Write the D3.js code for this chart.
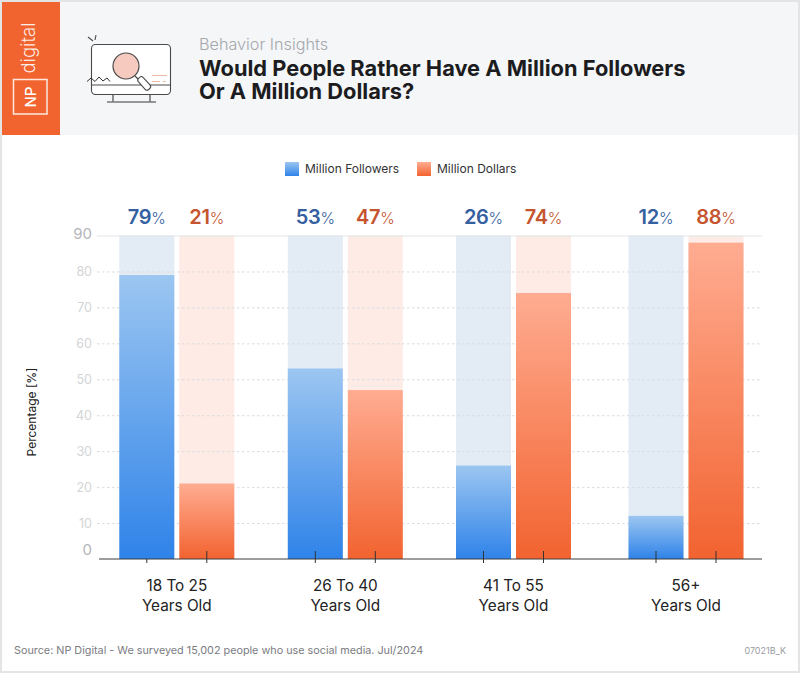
<!DOCTYPE html>
<html>
<head>
<meta charset="utf-8">
<script src="https://d3js.org/d3.v7.min.js"></script>
<style>
  html, body { margin: 0; padding: 0; background: #fff; }
  svg { display: block; font-family: Inter, "Noto Sans", sans-serif; }
</style>
</head>
<body>
<div id="chart"></div>
<script>
// Values
const categories = ["18 To 25", "26 To 40", "41 To 55", "56+"];
const categorySubLabel = "Years Old";
const seriesNames = ["Million Followers", "Million Dollars"];
const followers = [79, 53, 26, 12];
const dollars = [21, 47, 74, 88];
const yTicks = [0, 10, 20, 30, 40, 50, 60, 70, 80, 90];
const groupLefts = [119.3, 287.8, 456, 628.5];

const width = 800, height = 673;
const svg = d3.select("#chart").append("svg").attr("width", width).attr("height", height);
const defs = svg.append("defs");

function addGradient(id, top, bottom) {
    const g = defs.append("linearGradient").attr("id", id)
        .attr("x1", 0).attr("y1", 0).attr("x2", 0).attr("y2", 1);
    g.append("stop").attr("offset", "0%").attr("stop-color", top);
    g.append("stop").attr("offset", "100%").attr("stop-color", bottom);
}
addGradient("grad-0", "#9cc6f1", "#2f83e9");
addGradient("grad-1", "#ffac91", "#f26330");

const trackColors = ["#e3ebf5", "#feebe6"];
const labelColors = ["#35609f", "#c5552f"];

// frame
svg.append("rect").attr("x", 1).attr("y", 1).attr("width", width - 2).attr("height", height - 2)
    .attr("fill", "#fff").attr("stroke", "#e4e4e4").attr("stroke-width", 2);

// header
svg.append("rect").attr("x", 2).attr("y", 2).attr("width", 796).attr("height", 133).attr("fill", "#f4f6f8");
svg.append("rect").attr("x", 2).attr("y", 2).attr("width", 58).attr("height", 133).attr("fill", "#f2642f");
svg.append("rect").attr("x", 13.5).attr("y", 79.5).attr("width", 33.5).attr("height", 34.5)
    .attr("fill", "none").attr("stroke", "#fff").attr("stroke-opacity", 0.85).attr("stroke-width", 1.5);
svg.append("text").attr("transform", "translate(36,97) rotate(-90)").attr("text-anchor", "middle")
    .attr("fill", "#fff").attr("font-size", 15).attr("font-weight", 500).text("NP");
svg.append("text").attr("transform", "translate(35,48) rotate(-90)").attr("text-anchor", "middle")
    .attr("fill", "#fff").attr("fill-opacity", 0.9).attr("font-size", 18.5).attr("font-weight", 300).text("digital");

// monitor icon
const icon = svg.append("g").attr("fill", "none").attr("stroke", "#4a4a4a").attr("stroke-width", 1.1);
icon.append("rect").attr("x", 91.5).attr("y", 44.5).attr("width", 79).attr("height", 50).attr("rx", 4).attr("fill", "#fff");
icon.append("line").attr("x1", 91.5).attr("x2", 170.5).attr("y1", 85).attr("y2", 85);
icon.append("path").attr("d", "M113 94.5V102M150 94.5V102").attr("stroke-width", 1.2);
icon.append("line").attr("x1", 107).attr("x2", 156).attr("y1", 102).attr("y2", 102).attr("stroke", "#777").attr("stroke-width", 1.4);
icon.append("path").attr("d", "M88 37L93 41M96 35L95 40");
icon.append("path").attr("d", "M152 75.5H167M152 81.5H160M163 81.5H166").attr("stroke", "#eab9a5");
icon.append("path").attr("d", "M87 81.5L91 78L95 81.5L99 77L103 81L107 78L110 81.5")
    .attr("stroke", "#333").attr("stroke-width", 1);
icon.append("path").attr("d", "M135 76L139 80").attr("stroke-width", 1.2);
icon.append("rect").attr("x", -3).attr("y", 0).attr("width", 6.5).attr("height", 15).attr("rx", 2.5)
    .attr("transform", "translate(139,78) rotate(-42)").attr("fill", "#fff");
icon.append("circle").attr("cx", 126).attr("cy", 66).attr("r", 13).attr("fill", "#f7cabf").attr("stroke-width", 1.2);

// titles
svg.append("text").attr("x", 199).attr("y", 50).attr("fill", "#a4a8ac").attr("font-size", 16.2)
    .attr("font-weight", 300).text("Behavior Insights");
svg.append("text").attr("x", 199).attr("y", 76).attr("fill", "#1c1c1e").attr("font-size", 21.8)
    .attr("font-weight", 700).text("Would People Rather Have A Million Followers");
svg.append("text").attr("x", 199).attr("y", 99).attr("fill", "#1c1c1e").attr("font-size", 21.8)
    .attr("font-weight", 700).text("Or A Million Dollars?");

// legend
const legendItems = svg.append("g").selectAll("g").data(seriesNames).join("g")
    .attr("transform", (d, i) => `translate(${i === 0 ? 285 : 417},162)`);
legendItems.append("rect").attr("width", 14).attr("height", 14).attr("fill", (d, i) => `url(#grad-${i})`);
legendItems.append("text").attr("x", 20).attr("y", 10.5).attr("fill", "#333").attr("font-size", 12).text(d => d);

// scales
const y = d3.scaleLinear().domain([0, 90]).range([559, 235.5]);
const groupX = d3.scaleOrdinal().domain(categories).range(groupLefts);
const barX = d3.scaleBand().domain(seriesNames).range([0, 115]).paddingInner(5 / 60);
const rows = categories.map((c, i) => ({ category: c, values: [followers[i], dollars[i]] }));
const cells = rows.flatMap(r => r.values.map((v, s) => ({
    category: r.category, series: seriesNames[s], s, value: v
})));
const cellX = d => groupX(d.category) + barX(d.series);

// background tracks
svg.append("g").selectAll("rect").data(cells).join("rect")
    .attr("x", cellX).attr("width", barX.bandwidth())
    .attr("y", y(90)).attr("height", y(0) - y(90))
    .attr("fill", d => trackColors[d.s]);

// y axis + grid
const yAxis = svg.append("g").attr("transform", "translate(97,0)")
    .call(d3.axisLeft(y).tickValues(yTicks).tickSize(-665).tickPadding(5));
yAxis.select(".domain").remove();
yAxis.selectAll(".tick line")
    .attr("stroke", d => d === 90 ? "#e1e4e8" : "#d9dbde")
    .attr("stroke-width", 1)
    .attr("stroke-dasharray", d => d === 90 ? null : "2.5 2.5")
    .attr("display", d => d === 0 ? "none" : null);
yAxis.selectAll(".tick text")
    .attr("font-family", "Inter, sans-serif")
    .attr("font-size", d => d === 0 || d === 90 ? 15 : 12.5)
    .attr("fill", d => d === 0 || d === 90 ? "#b4b6b9" : "#d2d4d6")
    .attr("dy", d => d === 0 ? "-0.3em" : d === 90 ? "0.2em" : "0.32em");

// bars
svg.append("g").selectAll("rect").data(cells).join("rect")
    .attr("x", cellX).attr("width", barX.bandwidth())
    .attr("y", d => y(d.value)).attr("height", d => y(0) - y(d.value))
    .attr("fill", d => `url(#grad-${d.s})`);

// value labels
const valueLabels = svg.append("g").selectAll("text").data(cells).join("text")
    .attr("x", d => cellX(d) + barX.bandwidth() / 2).attr("y", 224)
    .attr("text-anchor", "middle").attr("fill", d => labelColors[d.s]);
valueLabels.append("tspan").attr("font-size", 20).attr("font-weight", 600).attr("letter-spacing", -0.3).text(d => d.value);
valueLabels.append("tspan").attr("font-size", 15.5).attr("font-weight", 300).text("%");

// x axis baseline and ticks
svg.append("line").attr("x1", 99).attr("x2", 762).attr("y1", y(0)).attr("y2", y(0))
    .attr("stroke", "#3d3d3d").attr("stroke-width", 1.2);
svg.append("g").selectAll("line").data(cells).join("line")
    .attr("x1", d => cellX(d) + barX.bandwidth() / 2)
    .attr("x2", d => cellX(d) + barX.bandwidth() / 2)
    .attr("y1", (d, i) => i === 0 ? y(0) : y(0) - 8).attr("y2", y(0) + 4)
    .attr("stroke", "#333").attr("stroke-width", 1);

// category labels
const xLabels = svg.append("g").selectAll("text").data(categories).join("text")
    .attr("text-anchor", "middle").attr("fill", "#222").attr("font-size", 15.3);
xLabels.append("tspan").attr("x", d => groupX(d) + 57.5).attr("y", 591).text(d => d);
xLabels.append("tspan").attr("x", d => groupX(d) + 57.5).attr("y", 610.5).text(categorySubLabel);

// y title
svg.append("text").attr("transform", "translate(36,412) rotate(-90)").attr("text-anchor", "middle")
    .attr("fill", "#222").attr("font-size", 12).text("Percentage [%]");

// footer
svg.append("text").attr("x", 14).attr("y", 654).attr("fill", "#7a7c7f").attr("font-size", 10.8)
    .text("Source: NP Digital - We surveyed 15,002 people who use social media. Jul/2024");
svg.append("text").attr("x", 786).attr("y", 654).attr("text-anchor", "end").attr("fill", "#9a9c9f")
    .attr("font-size", 9).text("07021B_K");
</script>
</body>
</html>
